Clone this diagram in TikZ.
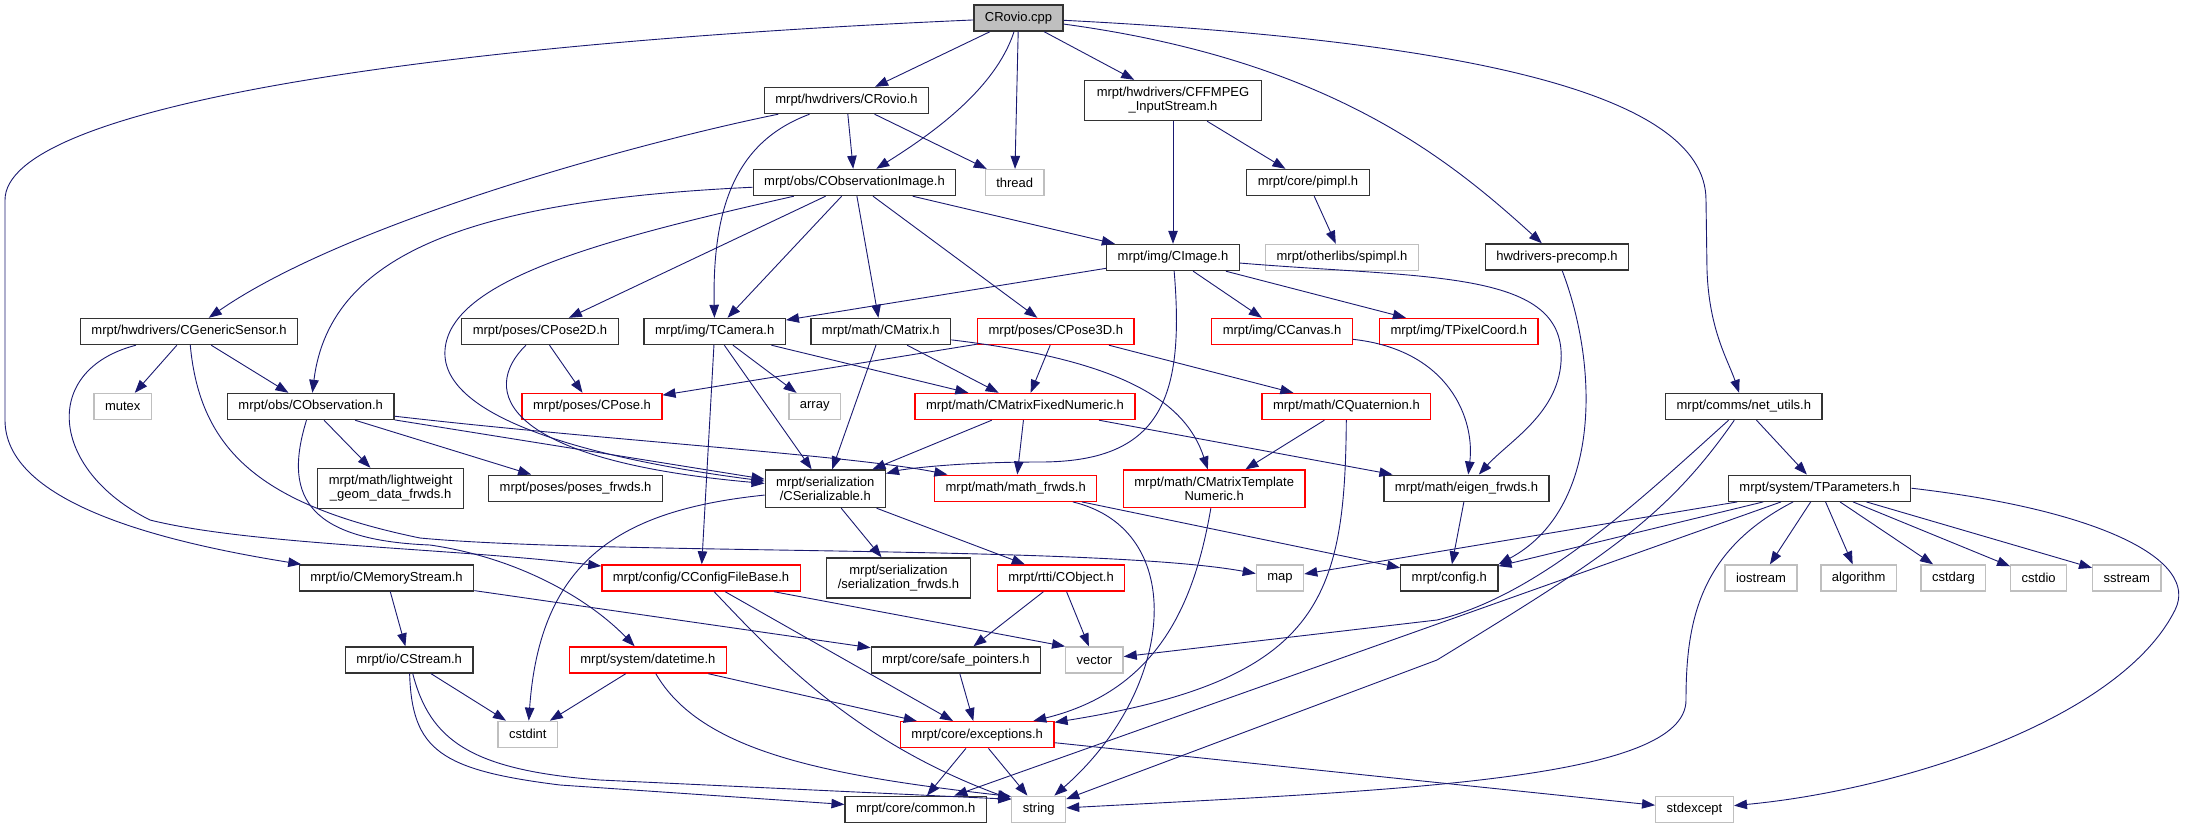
\documentclass[tikz,border=0pt]{standalone}
\usepackage{fontspec}
\setmainfont{Liberation Sans}
\usetikzlibrary{arrows.meta}
\definecolor{midnight}{HTML}{191970}
\definecolor{boxgray}{HTML}{BFBFBF}

\begin{document}
\begin{tikzpicture}[x=1pt,y=-1pt,
  hfile/.style={draw=black!80,line width=1.3pt,fill=white,inner xsep=11pt,inner ysep=7pt,
    minimum height=26pt,align=center,font=\fontsize{13}{14}\selectfont},
  sysh/.style={hfile,draw=boxgray},
  redh/.style={hfile,draw=red},
  rooth/.style={hfile,fill=boxgray},
  incl/.style={draw=midnight,line width=0.9pt,-{Triangle[length=13pt,width=9.5pt]}}]

\useasboundingbox (0,0) rectangle (2187,828);

\node[rooth] (cpp) at (1018.5,18) {CRovio.cpp};
\node[hfile] (rovioh) at (846.5,100.5) {mrpt/hwdrivers/CRovio.h};
\node[hfile,minimum width=177pt] (ffmpeg) at (1173,100.5) {mrpt/hwdrivers/CFFMPEG\\\_InputStream.h};
\node[hfile] (obsimg) at (854.5,182.5) {mrpt/obs/CObservationImage.h};
\node[sysh] (thread) at (1014.7,182.5) {thread};
\node[hfile] (pimpl) at (1308,182.5) {mrpt/core/pimpl.h};
\node[hfile] (cimage) at (1173,257.5) {mrpt/img/CImage.h};
\node[sysh] (spimpl) at (1342,257.5) {mrpt/otherlibs/spimpl.h};
\node[hfile] (precomp) at (1557,257) {hwdrivers-precomp.h};
\node[hfile] (gensensor) at (189,331.5) {mrpt/hwdrivers/CGenericSensor.h};
\node[sysh] (mutex) at (122.7,406.5) {mutex};
\node[hfile] (cobs) at (310.7,406.5) {mrpt/obs/CObservation.h};
\node[hfile] (pose2d) at (540,331.5) {mrpt/poses/CPose2D.h};
\node[redh] (cpose) at (592,406.5) {mrpt/poses/CPose.h};
\node[hfile] (tcamera) at (714.7,331.5) {mrpt/img/TCamera.h};
\node[hfile] (cmatrix) at (880.8,331.5) {mrpt/math/CMatrix.h};
\node[redh] (pose3d) at (1055.8,331.5) {mrpt/poses/CPose3D.h};
\node[redh] (canvas) at (1282,331.5) {mrpt/img/CCanvas.h};
\node[redh] (tpixel) at (1458.8,331.5) {mrpt/img/TPixelCoord.h};
\node[sysh] (array) at (814.7,406.5) {array};
\node[redh] (mfixed) at (1025,406.5) {mrpt/math/CMatrixFixedNumeric.h};
\node[redh] (quat) at (1346.4,406.5) {mrpt/math/CQuaternion.h};
\node[hfile] (netutils) at (1743.8,406.5) {mrpt/comms/net\_utils.h};
\node[hfile] (lwgeom) at (390.6,488.5) {mrpt/math/lightweight\\\_geom\_data\_frwds.h};
\node[hfile] (posesfrwds) at (575.6,488.2) {mrpt/poses/poses\_frwds.h};
\node[hfile] (serial) at (825.3,488.8) {mrpt/serialization\\/CSerializable.h};
\node[redh] (mathfrwds) at (1015.7,488.2) {mrpt/math/math\_frwds.h};
\node[redh] (mtemplate) at (1214.2,488.8) {mrpt/math/CMatrixTemplate\\Numeric.h};
\node[hfile] (eigen) at (1466.5,488.2) {mrpt/math/eigen\_frwds.h};
\node[hfile] (tparam) at (1819.6,488.2) {mrpt/system/TParameters.h};
\node[hfile] (memstream) at (386.5,578) {mrpt/io/CMemoryStream.h};
\node[redh] (configfb) at (701,578) {mrpt/config/CConfigFileBase.h};
\node[hfile] (serfrwds) at (898.5,578) {mrpt/serialization\\/serialization\_frwds.h};
\node[redh] (cobject) at (1061,578) {mrpt/rtti/CObject.h};
\node[sysh] (map) at (1280,578) {map};
\node[hfile] (config) at (1449.3,578) {mrpt/config.h};
\node[sysh] (iostream) at (1761,578) {iostream};
\node[sysh] (algorithm) at (1858.6,578) {algorithm};
\node[sysh] (cstdarg) at (1953.4,578) {cstdarg};
\node[sysh] (cstdio) at (2038.7,578) {cstdio};
\node[sysh] (sstream) at (2126.8,578) {sstream};
\node[hfile] (cstream) at (409.2,660) {mrpt/io/CStream.h};
\node[redh] (datetime) at (647.9,660) {mrpt/system/datetime.h};
\node[hfile] (safeptr) at (955.9,660) {mrpt/core/safe\_pointers.h};
\node[sysh] (vector) at (1094.4,660) {vector};
\node[sysh] (cstdint) at (527.8,734.3) {cstdint};
\node[redh] (exceptions) at (977.2,734.7) {mrpt/core/exceptions.h};
\node[hfile] (common) at (915.7,809.3) {mrpt/core/common.h};
\node[sysh] (string) at (1038.7,809.3) {string};
\node[sysh] (stdexcept) at (1694.5,809.3) {stdexcept};

\draw[incl] (cpp) .. controls (400,45) and (5,110) .. (5,200) -- (5,420) .. controls (5,500) and (150,540) .. (memstream);
\draw[incl] (cpp) -- (rovioh);
\draw[incl] (cpp) .. controls (995,90) and (930,135) .. (obsimg);
\draw[incl] (cpp) -- (thread);
\draw[incl] (cpp) -- (ffmpeg);
\draw[incl] (cpp) .. controls (1330,60) and (1450,160) .. (precomp);
\draw[incl] (cpp) .. controls (1450,40) and (1706,90) .. (1706,200) -- (1707,270) .. controls (1709,330) and (1728,360) .. (netutils);
\draw[incl] (rovioh) -- (obsimg);
\draw[incl] (rovioh) -- (thread);
\draw[incl] (rovioh) .. controls (650,140) and (350,220) .. (gensensor);
\draw[incl] (rovioh) .. controls (740,140) and (712,200) .. (tcamera);
\draw[incl] (ffmpeg) -- (cimage);
\draw[incl] (ffmpeg) -- (pimpl);
\draw[incl] (pimpl) -- (spimpl);
\draw[incl] (precomp) .. controls (1600,370) and (1600,510) .. (config.north east);
\draw[incl] (obsimg) .. controls (480,200) and (330,250) .. (cobs);
\draw[incl] (obsimg) .. controls (600,240) and (450,280) .. (445,350) .. controls (440,420) and (600,460) .. (serial);
\draw[incl] (obsimg) -- (pose2d);
\draw[incl] (obsimg) -- (tcamera);
\draw[incl] (obsimg) -- (cmatrix);
\draw[incl] (obsimg) -- (pose3d);
\draw[incl] (obsimg) -- (cimage);
\draw[incl] (cimage) -- (tcamera);
\draw[incl] (cimage) .. controls (1185,400) and (1160,462) .. (1040,462) .. controls (950,462) and (900,470) .. (serial);
\draw[incl] (cimage) -- (canvas);
\draw[incl] (cimage) -- (tpixel);
\draw[incl] (cimage) .. controls (1420,278) and (1555,270) .. (1561,350) .. controls (1565,410) and (1510,440) .. (eigen);
\draw[incl] (gensensor) -- (mutex);
\draw[incl] (gensensor) -- (cobs);
\draw[incl] (gensensor) .. controls (40,370) and (50,470) .. (150,520) .. controls (250,545) and (450,548) .. (configfb);
\draw[incl] (gensensor) .. controls (200,450) and (260,505) .. (420,538) .. controls (600,555) and (1100,545) .. (map);
\draw[incl] (cobs) -- (lwgeom);
\draw[incl] (cobs) -- (posesfrwds);
\draw[incl] (cobs) -- (serial);
\draw[incl] (cobs) .. controls (600,440) and (850,455) .. (mathfrwds);
\draw[incl] (cobs) .. controls (285,490) and (300,540) .. (430,545) .. controls (520,558) and (590,600) .. (datetime);
\draw[incl] (pose2d) -- (cpose);
\draw[incl] (pose2d) .. controls (480,390) and (500,460) .. (serial);
\draw[incl] (tcamera) -- (array);
\draw[incl] (tcamera) -- (serial);
\draw[incl] (tcamera) -- (mfixed);
\draw[incl] (tcamera) -- (configfb);
\draw[incl] (cmatrix) -- (serial);
\draw[incl] (cmatrix) -- (mfixed);
\draw[incl] (cmatrix) .. controls (1120,360) and (1185,400) .. (mtemplate);
\draw[incl] (pose3d) -- (cpose);
\draw[incl] (pose3d) -- (mfixed);
\draw[incl] (pose3d) -- (quat);
\draw[incl] (canvas) .. controls (1450,350) and (1475,420) .. (eigen);
\draw[incl] (mfixed) -- (serial);
\draw[incl] (mfixed) -- (mathfrwds);
\draw[incl] (mfixed) -- (eigen);
\draw[incl] (quat) -- (mtemplate);
\draw[incl] (quat) .. controls (1345,600) and (1320,680) .. (exceptions);
\draw[incl] (mtemplate) .. controls (1195,600) and (1160,690) .. (exceptions);
\draw[incl] (mathfrwds) .. controls (1190,530) and (1175,690) .. (string);
\draw[incl] (mathfrwds) -- (config);
\draw[incl] (eigen) -- (config);
\draw[incl] (netutils) -- (tparam);
\draw[incl] (netutils) .. controls (1640,500) and (1540,595) .. (1437,620) -- (vector);
\draw[incl] (netutils) .. controls (1665,520) and (1600,560) .. (1437,660) -- (string);
\draw[incl] (serial) .. controls (620,510) and (540,560) .. (cstdint);
\draw[incl] (serial) -- (serfrwds);
\draw[incl] (serial) -- (cobject);
\draw[incl] (memstream) -- (cstream);
\draw[incl] (memstream) -- (safeptr);
\draw[incl] (configfb) .. controls (770,650) and (850,740) .. (string);
\draw[incl] (configfb) -- (exceptions);
\draw[incl] (configfb) -- (vector.north west);
\draw[incl] (cobject) -- (safeptr);
\draw[incl] (cobject) -- (vector);
\draw[incl] (cstream) -- (cstdint);
\draw[incl] (cstream) .. controls (430,740) and (470,770) .. (600,780) -- (string.160);
\draw[incl] (cstream) .. controls (412,750) and (440,770) .. (560,785) -- (common);
\draw[incl] (datetime) -- (cstdint);
\draw[incl] (datetime) -- (exceptions);
\draw[incl] (datetime) .. controls (700,750) and (820,775) .. (string.155);
\draw[incl] (safeptr) -- (exceptions);
\draw[incl] (exceptions) -- (common);
\draw[incl] (exceptions) -- (string);
\draw[incl] (exceptions) -- (stdexcept);
\draw[incl] (tparam) -- (map);
\draw[incl] (tparam) -- (config);
\draw[incl] (tparam) -- (common);
\draw[incl] (tparam) .. controls (1700,550) and (1686,620) .. (1686,700) .. controls (1686,780) and (1400,790) .. (string);
\draw[incl] (tparam) -- (iostream);
\draw[incl] (tparam) -- (algorithm);
\draw[incl] (tparam) -- (cstdarg);
\draw[incl] (tparam) -- (cstdio);
\draw[incl] (tparam) -- (sstream);
\draw[incl] (tparam.east) .. controls (2100,510) and (2200,560) .. (2175,610) .. controls (2120,720) and (1900,790) .. (stdexcept);
\end{tikzpicture}
\end{document}
